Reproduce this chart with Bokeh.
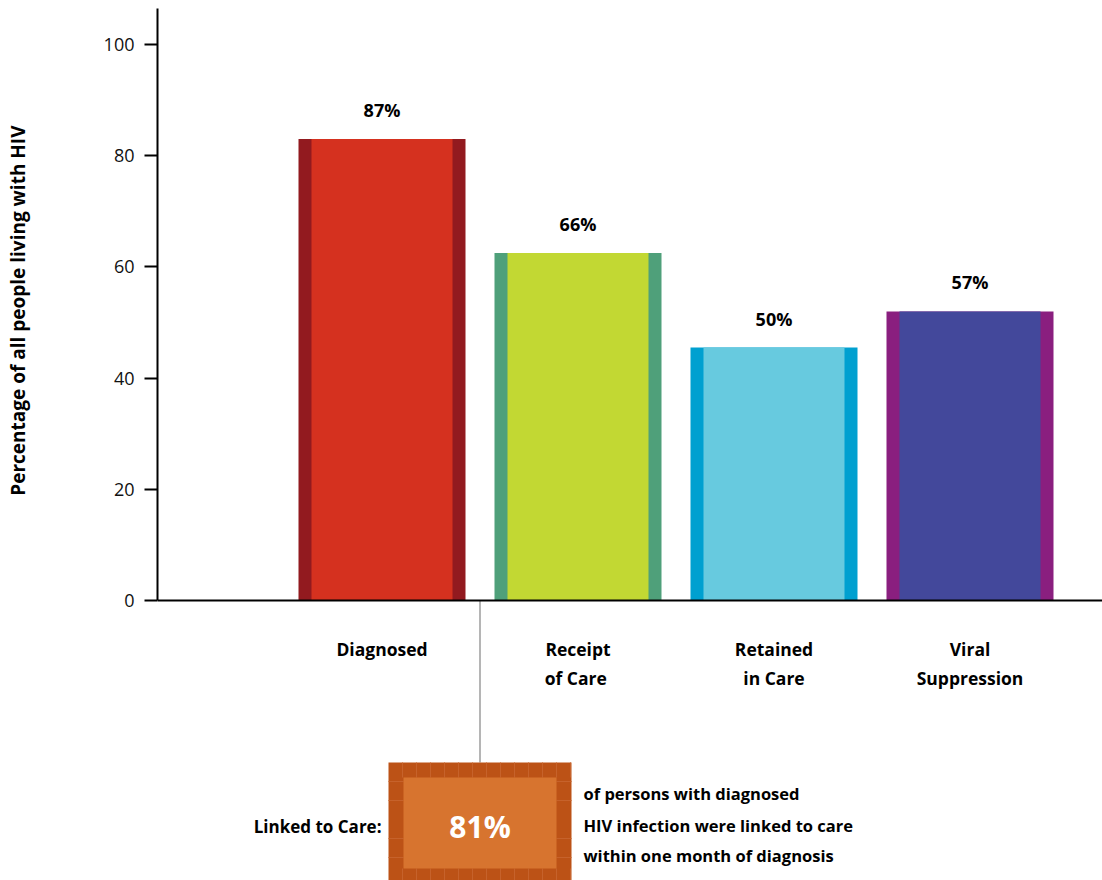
from bokeh.plotting import figure
from bokeh.models import Range1d, FixedTicker, Span, ColumnDataSource, Title
from bokeh.core.properties import value
from bokeh.embed import file_html
from bokeh.resources import INLINE

# ---------------- data ----------------
stages = ["Diagnosed", "Receipt\nof  Care", "Retained\nin Care", "Viral\nSuppression"]
bar_heights = [83.0, 62.5, 45.5, 52.0]
bar_labels = ["87%", "66%", "50%", "57%"]
main_colors = ["#D5311F", "#C2D833", "#67CADF", "#43489B"]
edge_colors = ["#921A1F", "#4FA07A", "#00A0D0", "#8A1F7F"]
y_ticks = [0, 20, 40, 60, 80, 100]
y_title = "Percentage of all people living with HIV"
linked_value = "81%"
linked_label = "Linked to Care:"
linked_text = ["of persons with diagnosed",
               "HIV infection were linked to care",
               "within one month of diagnosis"]

# ---------------- layout ----------------
W, H = 1102, 880
LEFT = 157            # frame left (y axis position)
ZERO_PX = 600         # pixel row of y = 0
PX_PER_SLOT = 196.0
PX_PER_UNIT = 5.56
FONT = "Open Sans"

x0_data = -(381.5 - LEFT) / PX_PER_SLOT
x1_data = x0_data + (W - LEFT) / PX_PER_SLOT
y1_data = ZERO_PX / PX_PER_UNIT
y0_data = -(H - ZERO_PX) / PX_PER_UNIT

def dx(px):  # horizontal pixel distance -> data
    return px / PX_PER_SLOT

def ypx(row):  # pixel row -> data y
    return (ZERO_PX - row) / PX_PER_UNIT

p = figure(width=W, height=H, x_range=Range1d(x0_data, x1_data),
           y_range=Range1d(y0_data, y1_data), x_axis_type=None,
           toolbar_location=None, output_backend="svg",
           min_border_left=LEFT, min_border_right=0,
           min_border_top=0, min_border_bottom=0)
p.outline_line_color = None
p.xgrid.visible = False
p.ygrid.visible = False
p.background_fill_color = "white"
p.border_fill_color = "white"

ax = p.yaxis[0]
ax.bounds = (0, 106.5)
ax.ticker = FixedTicker(ticks=y_ticks)
ax.axis_line_width = 2
ax.axis_line_color = "black"
ax.major_tick_line_width = 2
ax.major_tick_line_color = "black"
ax.major_tick_in = 0
ax.major_tick_out = 13
ax.minor_tick_line_color = None
ax.major_label_text_font = FONT
ax.major_label_text_font_size = "18px"
ax.major_label_text_color = "#111111"
ax.major_label_standoff = 10

# blank spacer between the tick labels and the vertical title
p.add_layout(Title(text=" ", standoff=39, text_font=FONT, text_font_size="19px"), "left")
p.add_layout(Title(text=y_title, align="right", offset=125, standoff=5,
                   text_font=FONT, text_font_size="19px", text_font_style="bold",
                   text_color="black"), "left")

xs = list(range(len(stages)))
src = ColumnDataSource(dict(x=xs, top=bar_heights, main=main_colors, edge=edge_colors,
                            lab=bar_labels,
                            l1=[s.split("\n")[0] for s in stages],
                            l2=[(s.split("\n") + [""])[1] for s in stages]))

p.vbar(x="x", top="top", bottom=0, width=dx(167), fill_color="edge", line_color=None, source=src)
p.vbar(x="x", top="top", bottom=0, width=dx(141), fill_color="main", line_color=None, source=src)

p.text(x="x", y="top", text="lab", y_offset=-29, text_align="center", text_baseline="middle",
       text_font=value(FONT), text_font_size="18px", text_font_style="bold",
       text_color="black", source=src)

p.text(x="x", y=ypx(648), text="l1", text_align="center", text_baseline="middle",
       text_font=value(FONT), text_font_size="17.5px", text_font_style="bold",
       text_color="black", source=src)
p.text(x="x", y=ypx(677), text="l2", text_align="center", text_baseline="middle",
       text_font=value(FONT), text_font_size="17.5px", text_font_style="bold",
       text_color="black", source=src)

p.add_layout(Span(location=0, dimension="width", line_color="black", line_width=2))

# ---------------- linked-to-care callout ----------------
cx = 0.5   # between Diagnosed and Receipt of Care
p.segment(x0=[cx], y0=[0], x1=[cx], y1=[ypx(762)], line_color="#B5B5B5", line_width=2)

ob_l, ob_r = cx - dx(91.5), cx + dx(91.5)
ib_l, ib_r = cx - dx(76.5), cx + dx(76.5)
p.quad(left=[ob_l], right=[ob_r], top=[ypx(762)], bottom=[ypx(890)],
       fill_color="#BC5216", line_color=None)
# subtle texture on the frame
tex = "#C6622B"
tx = [ob_l + dx(14) * k for k in range(1, 14)]
p.segment(x0=tx, y0=[ypx(762)] * len(tx), x1=tx, y1=[ypx(777)] * len(tx),
          line_color=tex, line_width=1)
p.segment(x0=tx, y0=[ypx(868)] * len(tx), x1=tx, y1=[ypx(880)] * len(tx),
          line_color=tex, line_width=1)
ty = [ypx(r) for r in (781, 800, 838, 857)]
p.segment(x0=[ob_l] * 4 + [ib_r] * 4, y0=ty + ty, x1=[ib_l] * 4 + [ob_r] * 4, y1=ty + ty,
          line_color=tex, line_width=1)
p.quad(left=[ib_l], right=[ib_r], top=[ypx(777)], bottom=[ypx(868)],
       fill_color="#D7742F", line_color=None)
p.text(x=[cx], y=[ypx(826)], text=[linked_value], text_align="center", text_baseline="middle",
       text_font=value(FONT), text_font_size="30px", text_font_style="bold", text_color="white")
p.text(x=[ob_l - dx(7)], y=[ypx(826)], text=[linked_label], text_align="right",
       text_baseline="middle", text_font=value(FONT), text_font_size="17px",
       text_font_style="bold", text_color="black")
p.text(x=[ob_r + dx(12)] * 3, y=[ypx(r) for r in (793, 825, 855)], text=linked_text,
       text_align="left", text_baseline="middle", text_font=value(FONT),
       text_font_size="16.5px", text_font_style="bold", text_color="black")

open("out.html", "w").write(file_html(p, INLINE))
